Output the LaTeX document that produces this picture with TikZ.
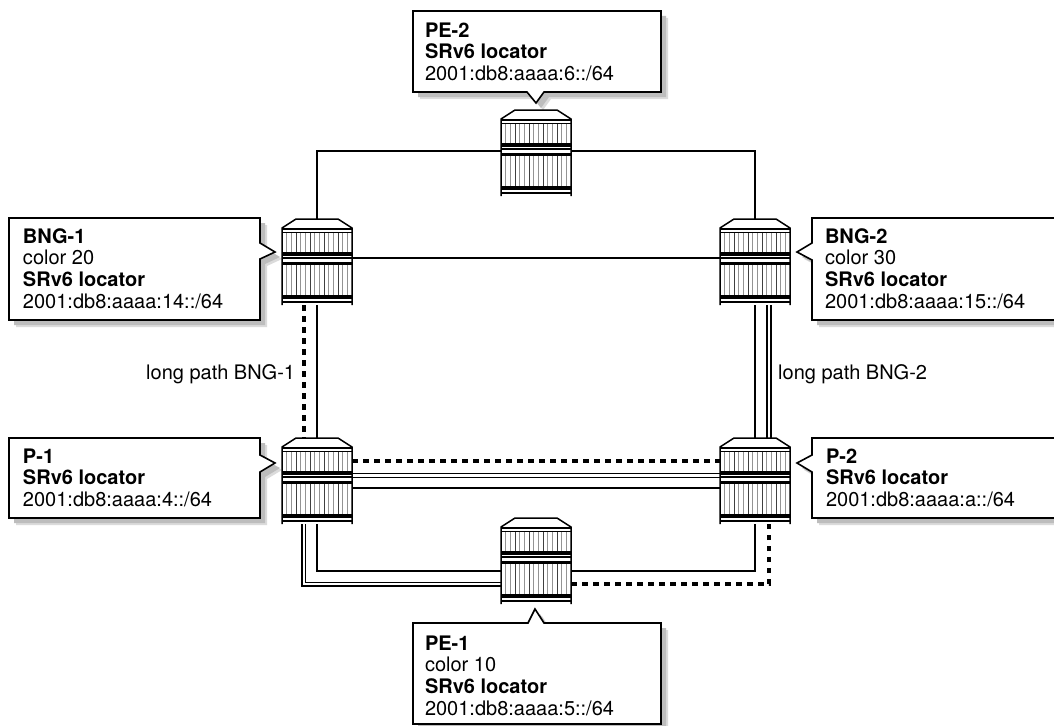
\documentclass[tikz,border=0pt]{standalone}
\usepackage{fontspec}
\setmainfont{TeX Gyre Heros}
\tikzset{
  x=1pt,y=-1pt,
  link/.style={line width=1.6pt,black},
  dotlink/.style={line width=3.2pt,black,dash pattern=on 5.5pt off 5.5pt},
  callout/.style={draw=black,line width=1.6pt,fill=white,line join=miter},
  shadowa/.style={fill=black!14,draw=none},
  shadowb/.style={fill=black!26,draw=none},
  calltext/.style={anchor=north west,inner sep=0pt,outer sep=0pt,align=left,font=\fontsize{20}{21.7}\selectfont,text=black},
  pathlabel/.style={anchor=base west,inner sep=0pt,font=\fontsize{20}{21.7}\selectfont,text=black},
  routerbox/.style={rectangle,minimum width=70pt,minimum height=86pt,inner sep=0pt,outer sep=0pt,draw=none,fill=white},
}
% #1 name, #2 cx, #3 cy
\newcommand{\routerdraw}[3]{%
  \node[routerbox] (#1) at (#2,#3) {};
  \begin{scope}[shift={(#2-35,#3-43)}]
    \fill[white] (0,9) -- (14,0) -- (56,0) -- (70,9) -- cycle;
    \foreach \k in {1,...,14}{
      \pgfmathsetmacro{\xx}{\k*4.67}
      \pgfmathtruncatemacro{\dk}{mod(\k,3)==0 ? 75 : 42}
      \draw[line width=0.9pt,black!\dk] (\xx,13) -- (\xx,33);
      \draw[line width=0.9pt,black!\dk] (\xx,46) -- (\xx,76);
    }
    \draw[line width=1.5pt,line join=miter] (0,86) -- (0,9) -- (14,0) -- (56,0) -- (70,9) -- (70,86);
    \draw[line width=1.6pt] (0,10) -- (70,10);
    \draw[line width=0.8pt] (0,13) -- (70,13);
    \fill (0,32.5) rectangle (70,36.5);
    \draw[line width=1.1pt] (0,39) -- (70,39);
    \fill (0,42.5) rectangle (70,46);
    \fill (0,76) rectangle (70,80);
    \draw[line width=1.3pt] (0,83) -- (70,83);
  \end{scope}
}
% callout polygons: #1 point list
\newcommand{\calloutdraw}[1]{%
  \path[shadowa,shift={(7,7)}] #1 -- cycle;
  \path[shadowb,shift={(5,5)}] #1 -- cycle;
  \draw[callout] #1 -- cycle;
}
\begin{document}
\begin{tikzpicture}
\useasboundingbox (0,0) rectangle (1054,725);
\clip (0,0) rectangle (1054,725);
\fill[white] (0,0) rectangle (1054,725);

% callouts
\calloutdraw{(413,11) -- (661,11) -- (661,92) -- (544,92) -- (536,103) -- (527,92) -- (413,92)}
\calloutdraw{(9,218) -- (260,218) -- (260,243) -- (275,252) -- (260,259) -- (260,320) -- (9,320)}
\calloutdraw{(812,218) -- (1064,218) -- (1064,320) -- (812,320) -- (812,260) -- (797,252) -- (812,243)}
\calloutdraw{(9,438) -- (260,438) -- (260,455) -- (275,463) -- (260,472) -- (260,518) -- (9,518)}
\calloutdraw{(812,438) -- (1064,438) -- (1064,518) -- (812,518) -- (812,472) -- (797,463) -- (812,455)}
\calloutdraw{(413,623) -- (528,623) -- (535,609) -- (544,623) -- (661,623) -- (661,724) -- (413,724)}

% routers
\routerdraw{pe2}{536}{153}
\routerdraw{bng1}{317}{262}
\routerdraw{bng2}{755}{262}
\routerdraw{p1}{317}{481}
\routerdraw{p2}{755}{481}
\routerdraw{pe1}{536}{561}

% links
\draw[link] ([yshift=2pt]pe2.west) -| (bng1.north);
\draw[link] ([yshift=2pt]pe2.east) -| (bng2.north);
\draw[link] ([yshift=4pt]bng1.east) -- ([yshift=4pt]bng2.west);
\draw[link] (bng1.south) -- (p1.north);
\draw[dotlink] ([xshift=-13pt]bng1.south) -- ([xshift=-13pt]p1.north);
\draw[link] (bng2.south) -- (p2.north);
\draw[link] ([xshift=12pt]bng2.south) -- ([xshift=12pt]p2.north);
\draw[link] ([xshift=16pt]bng2.south) -- ([xshift=16pt]p2.north);
\draw[dotlink] ([yshift=20pt]p1.east) -- ([yshift=20pt]p2.west);
\draw[link] ([yshift=7.7pt]p1.east) -- ([yshift=7.7pt]p2.west);
\draw[link] ([yshift=3.7pt]p1.east) -- ([yshift=3.7pt]p2.west);
\draw[link] ([yshift=-6.7pt]p1.east) -- ([yshift=-6.7pt]p2.west);
\draw[link] ([yshift=-10pt]pe1.west) -| (p1.south);
\draw[link] ([yshift=-21.5pt]pe1.west) -| ([xshift=-11.5pt]p1.south);
\draw[link] ([yshift=-25pt]pe1.west) -| ([xshift=-15pt]p1.south);
\draw[link] ([yshift=-10pt]pe1.east) -| (p2.south);
\draw[dotlink] ([yshift=-23pt]pe1.east) -| ([xshift=14pt]p2.south);

% texts
\node[calltext] (tpe2) at (425,22) {\rule{0pt}{15pt}\textbf{PE-2}\\\textbf{SRv6 locator}\\2001:db8:aaaa:6::/64};
\node[calltext] (tbng1) at (23,228) {\rule{0pt}{15pt}\textbf{BNG-1}\\color 20\\\textbf{SRv6 locator}\\2001:db8:aaaa:14::/64};
\node[calltext] (tbng2) at (825,228) {\rule{0pt}{15pt}\textbf{BNG-2}\\color 30\\\textbf{SRv6 locator}\\2001:db8:aaaa:15::/64};
\node[calltext] (tp1) at (23,448) {\rule{0pt}{15pt}\textbf{P-1}\\\textbf{SRv6 locator}\\2001:db8:aaaa:4::/64};
\node[calltext] (tp2) at (826,448) {\rule{0pt}{15pt}\textbf{P-2}\\\textbf{SRv6 locator}\\2001:db8:aaaa:a::/64};
\node[calltext] (tpe1) at (425,635) {\rule{0pt}{15pt}\textbf{PE-1}\\color 10\\\textbf{SRv6 locator}\\2001:db8:aaaa:5::/64};
\node[pathlabel] (lp1) at (146,379) {long path BNG-1};
\node[pathlabel] (lp2) at (778,379) {long path BNG-2};
\end{tikzpicture}
\end{document}
